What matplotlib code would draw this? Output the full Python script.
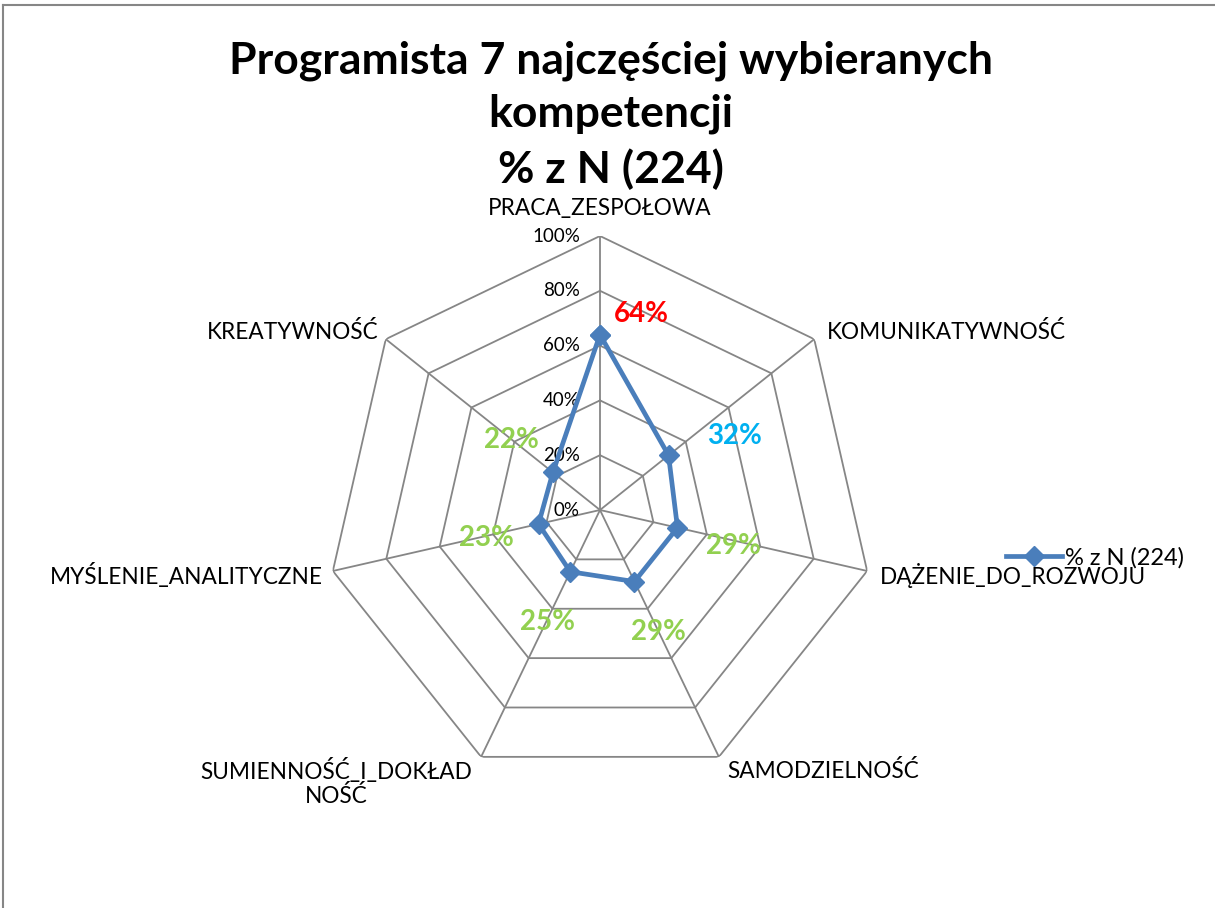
import numpy as np
import matplotlib
matplotlib.use("Agg")
import matplotlib.pyplot as plt
from matplotlib.lines import Line2D

categories = ["PRACA_ZESPOŁOWA", "KOMUNIKATYWNOŚĆ", "DĄŻENIE_DO_ROZWOJU", "SAMODZIELNOŚĆ",
              "SUMIENNOŚĆ_I_DOKŁAD\nNOŚĆ", "MYŚLENIE_ANALITYCZNE", "KREATYWNOŚĆ"]
values = [0.64, 0.32, 0.29, 0.29, 0.25, 0.23, 0.22]
value_labels = ["64%", "32%", "29%", "29%", "25%", "23%", "22%"]
label_colors = ["#FF0000", "#00B0F0", "#92D050", "#92D050", "#92D050", "#92D050", "#92D050"]
rticks = [0.0, 0.2, 0.4, 0.6, 0.8, 1.0]
rtick_labels = ["0%", "20%", "40%", "60%", "80%", "100%"]
series_name = "% z N (224)"
title = "Programista 7 najczęściej wybieranych\nkompetencji\n% z N (224)"

plt.rcParams['font.family'] = ['Lato', 'DejaVu Sans']

W, H = 1215, 908
fig = plt.figure(figsize=(W / 100, H / 100), dpi=100)
fig.patch.set_facecolor("white")

# outer border (top and left visible)
fig.add_artist(Line2D([3 / W, 3 / W], [0, 1 - 5 / H], color="#868686", lw=1.5, transform=fig.transFigure))
fig.add_artist(Line2D([3 / W, 1], [1 - 5 / H, 1 - 5 / H], color="#868686", lw=1.5, transform=fig.transFigure))

cx, cy, R = 600, 510, 274
ax = fig.add_axes([(cx - R) / W, (H - cy - R) / H, 2 * R / W, 2 * R / H], projection="polar")
ax.set_theta_zero_location("N")
ax.set_theta_direction(-1)
ax.set_ylim(0, 1)
ax.grid(False)
ax.spines["polar"].set_visible(False)
ax.set_xticks([])
ax.set_yticks([])
ax.patch.set_alpha(0)

n = len(categories)
theta = np.arange(n) * 2 * np.pi / n
theta_closed = np.concatenate([theta, theta[:1]])

grid_color = "#868686"
for r in rticks[1:]:
    ax.plot(theta_closed, [r] * (n + 1), color=grid_color, lw=1.3, zorder=1)
for t in theta:
    ax.plot([t, t], [0, 1], color=grid_color, lw=1.3, zorder=1)

for r, lab in zip(rticks, rtick_labels):
    ax.annotate(lab, xy=(0, r), xycoords="data", xytext=(-20, 0), textcoords="offset pixels",
                ha="right", va="center", fontsize=13.5, color="black")

vals_closed = values + values[:1]
ax.plot(theta_closed, vals_closed, color="#4A7EBB", lw=3.4, marker="D", markersize=10,
        markerfacecolor="#4A7EBB", markeredgecolor="#4A7EBB", zorder=3, label=series_name)

label_offsets = [(41, 21), (66, 19), (56, -18), (24, -50), (-23, -50), (-52, -14), (-41, 32)]
for t, v, lab, c, off in zip(theta, values, value_labels, label_colors, label_offsets):
    ax.annotate(lab, xy=(t, v), xycoords="data", xytext=off, textcoords="offset pixels",
                ha="center", va="center", fontsize=20, fontweight="bold", color=c)

cat_specs = [
    ((0, 28), "center", "center"),
    ((13, 7), "left", "center"),
    ((13, -5), "left", "center"),
    ((8, -14), "left", "center"),
    ((-7, -10), "right", "center"),
    ((-10, -5), "right", "center"),
    ((-7, 7), "right", "center"),
]
for t, cat, (off, ha, va) in zip(theta, categories, cat_specs):
    if "\n" in cat:
        ax.annotate(cat, xy=(t, 1.0), xycoords="data", xytext=(-145, -26), textcoords="offset pixels",
                    ha="center", va="center", fontsize=16.3, multialignment="center", linespacing=1.1)
    else:
        ax.annotate(cat, xy=(t, 1.0), xycoords="data", xytext=off, textcoords="offset pixels",
                    ha=ha, va=va, fontsize=16.3)

fig.text(611 / W, 1 - 115 / H, title, ha="center", va="center", fontsize=32, fontweight="bold",
         linespacing=1.4)

leg = fig.legend(handles=[Line2D([], [], color="#4A7EBB", lw=3.4, marker="D", markersize=10)],
                 labels=[series_name], loc="center left", bbox_to_anchor=(994 / W, 1 - 558 / H),
                 frameon=False, fontsize=17, handlelength=2.4, handletextpad=0.1, borderpad=0)

fig.savefig("out.png", dpi=100, facecolor="white")
